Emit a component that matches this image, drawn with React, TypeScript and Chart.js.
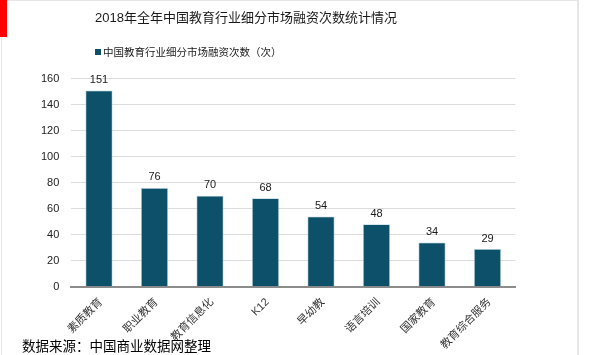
import React, { useEffect, useRef } from "react";
import { Chart, registerables } from "chart.js";

Chart.register(...registerables);

const categories = ["素质教育", "职业教育", "教育信息化", "K12", "早幼教", "语言培训", "国家教育", "教育综合服务"];
const values = [151, 76, 70, 68, 54, 48, 34, 29];
const seriesName = "中国教育行业细分市场融资次数（次）";
const titleText = "2018年全年中国教育行业细分市场融资次数统计情况";
const sourceText = "数据来源：中国商业数据网整理";
const yMax = 160;
const yStep = 20;

const FONT = "'Liberation Sans', Arial, 'Noto Sans CJK SC', sans-serif";
const BAR = "#0c5069";

const valueLabels = {
  id: "valueLabels",
  afterDatasetsDraw(chart: any) {
    const ctx = chart.ctx;
    const meta = chart.getDatasetMeta(0);
    ctx.save();
    ctx.font = `11px ${FONT}`;
    ctx.fillStyle = "#1a1a1a";
    ctx.textAlign = "center";
    ctx.textBaseline = "bottom";
    meta.data.forEach((el: any, i: number) => {
      ctx.fillText(String(chart.data.datasets[0].data[i]), el.x, el.y - 5);
    });
    ctx.restore();
  },
};

export default function App() {
  const ref = useRef<HTMLCanvasElement | null>(null);
  useEffect(() => {
    document.body.style.margin = "0";
    const chart = new Chart(ref.current!, {
      type: "bar",
      data: {
        labels: categories,
        datasets: [
          {
            label: seriesName,
            data: values,
            backgroundColor: BAR,
            borderColor: "#b9d2de",
            borderWidth: 0.8,
            categoryPercentage: 1,
            barPercentage: 0.49,
          },
        ],
      },
      options: {
        animation: false,
        responsive: false,
        maintainAspectRatio: false,
        layout: { padding: { left: 0, right: 84.75, top: 78.7, bottom: 0 } },
        plugins: {
          legend: { display: false },
          title: { display: false },
          tooltip: { enabled: false },
        },
        scales: {
          x: {
            afterFit(scale: any) {
              scale.height = 355 - 286.7;
            },
            grid: { display: false, drawTicks: false },
            border: { display: true, color: "#8c8c8c", width: 2 },
            ticks: {
              autoSkip: false,
              minRotation: 45,
              maxRotation: 45,
              padding: 9,
              labelOffset: 2,
              color: "#333",
              font: { size: 11, family: FONT },
            },
          },
          y: {
            min: 0,
            max: yMax,
            afterFit(scale: any) {
              scale.width = 71.25;
            },
            grid: { color: "#dcdcdc", drawTicks: false },
            border: { display: false },
            ticks: {
              stepSize: yStep,
              padding: 12,
              color: "#222",
              font: { size: 11, family: FONT },
            },
          },
        },
      },
      plugins: [valueLabels],
    });
    return () => chart.destroy();
  }, []);

  return (
    <div style={{ position: "relative", width: 600, height: 355, overflow: "hidden", background: "#fff", fontFamily: FONT }}>
      <div style={{ position: "absolute", left: 1, top: 0, width: 575, height: 400, borderLeft: "1px solid #e6e6e6", borderTop: "1px solid #e6e6e6", borderRight: "2px solid #e6e6e6" }} />
      <div style={{ position: "absolute", left: 0, top: 0, width: 7, height: 37, background: "#ff0000" }} />
      <canvas ref={ref} width={600} height={355} style={{ position: "absolute", left: 0, top: 0 }} />
      <div style={{ position: "absolute", left: 95, top: 9, fontSize: 13, lineHeight: "17px", color: "#1a1a1a", whiteSpace: "nowrap" }}>{titleText}</div>
      <div style={{ position: "absolute", left: 95, top: 49, width: 6, height: 6, background: BAR }} />
      <div style={{ position: "absolute", left: 103, top: 45, fontSize: 10.5, lineHeight: "14px", color: "#1a1a1a", whiteSpace: "nowrap" }}>{seriesName}</div>
      <div style={{ position: "absolute", left: 22, top: 338, fontSize: 13.5, lineHeight: "17px", color: "#000", whiteSpace: "nowrap" }}>{sourceText}</div>
    </div>
  );
}
